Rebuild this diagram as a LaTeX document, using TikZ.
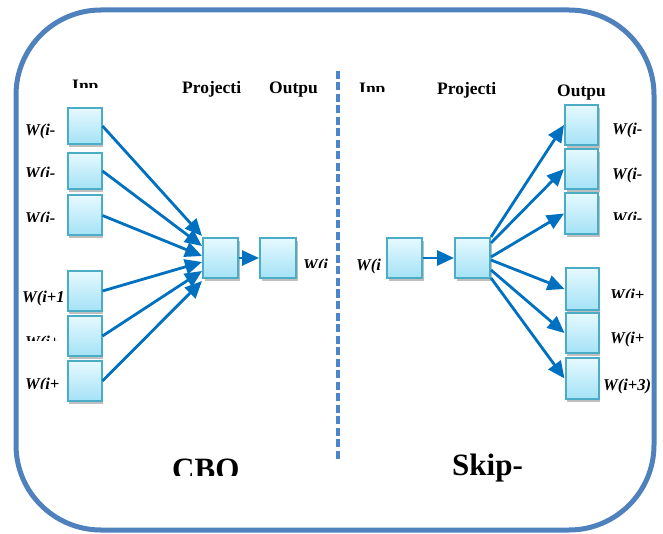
\documentclass[tikz,border=0pt]{standalone}
\usepackage{fontspec}
\setmainfont{Liberation Serif}
\usetikzlibrary{arrows.meta,shadows}
\definecolor{frameblue}{HTML}{4F81BD}
\definecolor{dashblue}{HTML}{4A86C8}
\definecolor{boxedge}{HTML}{4BACC6}
\definecolor{boxtop}{HTML}{E6F9FF}
\definecolor{boxbot}{HTML}{A4E2F6}
\definecolor{arrowblue}{HTML}{0070C0}
\tikzset{
  unit/.style={draw=boxedge, line width=2pt, top color=boxtop, bottom color=boxbot,
    minimum width=34pt, minimum height=40pt, inner sep=0pt,
    drop shadow={opacity=0.5, shadow xshift=1.5pt, shadow yshift=-3pt}},
  link/.style={draw=arrowblue, line width=2.8pt, -{Triangle[length=17pt,width=15pt]}},
  head/.style={font=\bfseries\fontsize{17.5}{20}\selectfont, anchor=base west, inner sep=0pt},
  word/.style={font=\bfseries\itshape\fontsize{16.5}{19}\selectfont, anchor=base west, inner sep=0pt},
  title/.style={font=\bfseries\fontsize{31}{34}\selectfont, anchor=base west, inner sep=0pt},
}
\begin{document}
\begin{tikzpicture}[x=1pt,y=-1pt]
\useasboundingbox (0,0) rectangle (663,534);
% outer frame and the divider between the two models
\draw[frameblue, line width=5pt, rounded corners=85pt] (16,10) rectangle (654,530);
\draw[dashblue, line width=3.2pt, dash pattern=on 8pt off 3.5pt] (338,71) -- (338,460);

% ---------- CBOW ----------
\begin{scope}\clip (60,70) rectangle (120,88);
\node[head] (hinL) at (72,92) {Inp};\end{scope}
\node[head] (hprL) at (182,94) {Projecti};
\node[head] (houL) at (269,94) {Outpu};

\node[unit, minimum height=36pt] (a1) at (84.5,126) {};
\node[unit, minimum height=36pt] (a2) at (84.5,171) {};
\node[unit] (a3) at (84.5,215.5) {};
\node[unit] (a4) at (84.5,291) {};
\node[unit] (a5) at (84.5,336) {};
\node[unit] (a6) at (84.5,381) {};
\node[unit, minimum width=35pt] (pc) at (220.5,258) {};
\node[unit, minimum width=36pt] (oc) at (278,258) {};

\node[word] (la1) at (25,136) {W(i-};
\begin{scope}\clip (15,160) rectangle (66,177);
\node[word] (la2) at (25,179) {W(i-};\end{scope}
\begin{scope}\clip (15,205) rectangle (66,222);
\node[word] (la3) at (25,224) {W(i-};\end{scope}
\node[word] (la4) at (22,302) {W(i+1};
\begin{scope}\clip (15,328) rectangle (66,340);
\node[word] (la5) at (25,347) {W(i+};\end{scope}
\begin{scope}\clip (15,370) rectangle (66,388);
\node[word] (la6) at (25,389) {W(i+};\end{scope}
\begin{scope}\clip (298,250) rectangle (334,268);
\node[word] (loc) at (303,271) {W(i};\end{scope}

\draw[link] (a1.east) -- ([yshift=22pt]pc.west);
\draw[link] (a2.east) -- ([yshift=12pt]pc.west);
\draw[link] (a3.east) -- ([yshift=2pt]pc.west);
\draw[link] (a4.east) -- ([yshift=-4pt]pc.west);
\draw[link] (a5.east) -- ([yshift=-13pt]pc.west);
\draw[link] (a6.east) -- ([yshift=-23pt]pc.west);
\draw[link] (pc.east) -- (oc.west);

\begin{scope}\clip (160,445) rectangle (260,475);
\node[title] (tcb) at (172,479) {CBO};\end{scope}

% ---------- Skip-gram ----------
\begin{scope}\clip (350,70) rectangle (400,92);
\node[head] (hinR) at (359,95) {Inp};\end{scope}
\node[head] (hprR) at (437,95) {Projecti};
\node[head] (houR) at (557,97) {Outpu};

\node[unit, minimum width=35pt] (si) at (404.5,258) {};
\node[unit, minimum width=35pt] (sp) at (472.5,258) {};
\node[unit, minimum width=33pt] (b1) at (581.5,125) {};
\node[unit, minimum width=33pt] (b2) at (581.5,169) {};
\node[unit, minimum width=33pt, minimum height=41pt] (b3) at (581.5,213.5) {};
\node[unit, minimum width=33pt, minimum height=42pt] (b4) at (582,289) {};
\node[unit, minimum width=33pt] (b5) at (582,333) {};
\node[unit, minimum width=33pt, minimum height=41pt] (b6) at (582,378.5) {};

\node[word] (lsi) at (356,271) {W(i};
\node[word] (lb1) at (612,135) {W(i-};
\node[word] (lb2) at (612,180) {W(i-};
\begin{scope}\clip (605,205) rectangle (650,220);
\node[word] (lb3) at (612,224) {W(i-};\end{scope}
\begin{scope}\clip (605,280) rectangle (650,297);
\node[word] (lb4) at (610,301) {W(i+};\end{scope}
\node[word] (lb5) at (610,343) {W(i+};
\node[word] (lb6) at (603,390) {W(i+3)};

\draw[link] (si.east) -- (sp.west);
\draw[link] ([yshift=21pt]sp.east) -- (b1.west);
\draw[link] ([yshift=15pt]sp.east) -- (b2.west);
\draw[link] ([yshift=1pt]sp.east) -- (b3.west);
\draw[link] ([yshift=-2pt]sp.east) -- (b4.west);
\draw[link] ([yshift=-12pt]sp.east) -- (b5.west);
\draw[link] ([yshift=-20pt]sp.east) -- (b6.west);

\node[title] (tsk) at (452,475) {Skip-};
\end{tikzpicture}
\end{document}
